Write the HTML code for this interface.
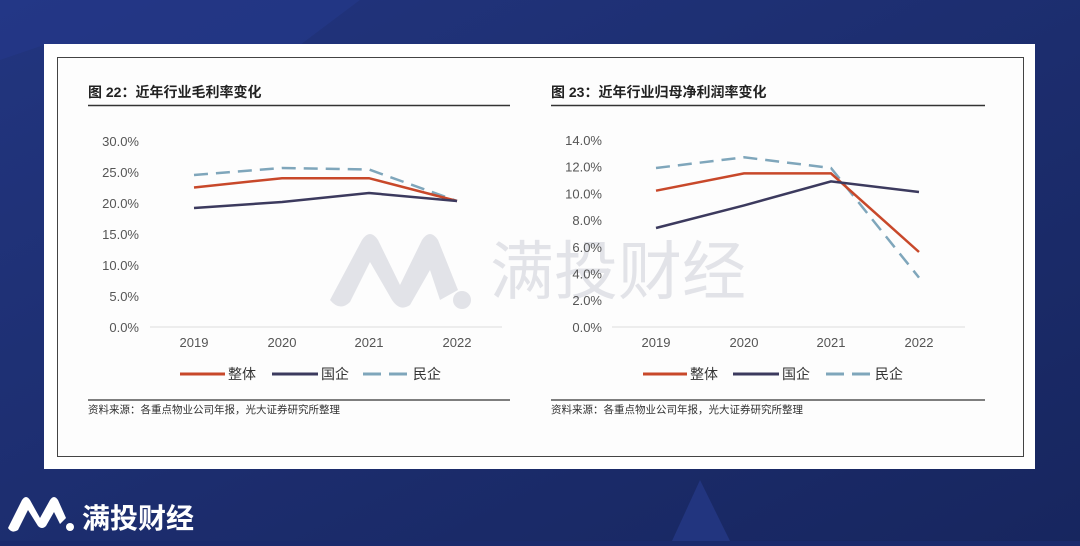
<!DOCTYPE html>
<html><head><meta charset="utf-8"><style>
html,body{margin:0;padding:0;}
body{width:1080px;height:541px;overflow:hidden;background:#1a2a6c;}
svg text{font-family:"Liberation Sans","Noto Sans CJK SC",sans-serif;}
</style></head><body>
<svg width="1080" height="541" viewBox="0 0 1080 541" xmlns="http://www.w3.org/2000/svg">
<defs><linearGradient id="bg" x1="0" y1="0" x2="1" y2="1"><stop offset="0" stop-color="#22357f"/><stop offset="1" stop-color="#17265f"/></linearGradient></defs>
<rect width="1080" height="541" fill="url(#bg)"/>
<polygon points="0,0 360,0 300,45 44,45 0,60" fill="#24388a" opacity="0.6"/>
<polygon points="672,541 700,480 730,541" fill="#22357f"/>
<rect x="44" y="44" width="991" height="425" fill="#ffffff"/>
<rect x="57.5" y="57.5" width="966" height="399" fill="#fdfdfd" stroke="#444" stroke-width="1"/>
<!-- watermark -->
<g fill="#e2e3e8">
<path d="M330,300 L362,240 Q370,228 378,240 L400,285 L422,240 Q430,228 438,240 L458,290 L440,300 L430,270 L410,305 Q400,312 392,300 L370,262 L350,302 Q340,312 330,300Z"/>
<circle cx="462" cy="300" r="9"/>
</g>
<text x="490" y="294" font-size="64" fill="#e2e3e8">满投财经</text>
<!-- left chart -->
<text x="88" y="97" font-size="14" font-weight="bold" fill="#222">图 22：近年行业毛利率变化</text>
<line x1="88" y1="105.5" x2="510" y2="105.5" stroke="#333" stroke-width="1.5"/>
<g font-size="13" fill="#555" text-anchor="end">
<text x="139" y="146">30.0%</text><text x="139" y="177">25.0%</text><text x="139" y="208">20.0%</text><text x="139" y="239">15.0%</text><text x="139" y="270">10.0%</text><text x="139" y="301">5.0%</text><text x="139" y="332">0.0%</text>
</g>
<line x1="150" y1="327" x2="502" y2="327" stroke="#ddd" stroke-width="1"/>
<g font-size="13" fill="#555" text-anchor="middle">
<text x="194" y="347">2019</text><text x="282" y="347">2020</text><text x="369" y="347">2021</text><text x="457" y="347">2022</text>
</g>
<polyline points="194,175 282,168 369,169.5 457,201" fill="none" stroke="#7fa6bb" stroke-width="2.5" stroke-dasharray="14,8"/>
<polyline points="194,187.5 282,178.2 369,178.2 457,201" fill="none" stroke="#c8482a" stroke-width="2.5"/>
<polyline points="194,208 282,202 369,193 457,201" fill="none" stroke="#3c3a5e" stroke-width="2.5"/>
<line x1="180" y1="374" x2="225" y2="374" stroke="#c8482a" stroke-width="3"/>
<text x="228" y="379" font-size="14" fill="#333">整体</text>
<line x1="272" y1="374" x2="318" y2="374" stroke="#3c3a5e" stroke-width="3"/>
<text x="321" y="379" font-size="14" fill="#333">国企</text>
<line x1="363" y1="374" x2="410" y2="374" stroke="#7fa6bb" stroke-width="3" stroke-dasharray="18,8"/>
<text x="413" y="379" font-size="14" fill="#333">民企</text>
<line x1="88" y1="400" x2="510" y2="400" stroke="#333" stroke-width="1.2"/>
<text x="88" y="413" font-size="10.5" fill="#333">资料来源：各重点物业公司年报，光大证券研究所整理</text>
<!-- right chart -->
<text x="551" y="97" font-size="14" font-weight="bold" fill="#222">图 23：近年行业归母净利润率变化</text>
<line x1="551" y1="105.5" x2="985" y2="105.5" stroke="#333" stroke-width="1.5"/>
<g font-size="13" fill="#555" text-anchor="end">
<text x="602" y="145">14.0%</text><text x="602" y="171.7">12.0%</text><text x="602" y="198.4">10.0%</text><text x="602" y="225">8.0%</text><text x="602" y="251.8">6.0%</text><text x="602" y="278.5">4.0%</text><text x="602" y="305">2.0%</text><text x="602" y="332">0.0%</text>
</g>
<line x1="612" y1="327" x2="965" y2="327" stroke="#ddd" stroke-width="1"/>
<g font-size="13" fill="#555" text-anchor="middle">
<text x="656" y="347">2019</text><text x="744" y="347">2020</text><text x="831" y="347">2021</text><text x="919" y="347">2022</text>
</g>
<polyline points="656,168 744,157.3 831,168 919,277.6" fill="none" stroke="#7fa6bb" stroke-width="2.5" stroke-dasharray="14,8"/>
<polyline points="656,190.7 744,173.4 831,173.4 919,252" fill="none" stroke="#c8482a" stroke-width="2.5"/>
<polyline points="656,228 744,205.4 831,181.4 919,192" fill="none" stroke="#3c3a5e" stroke-width="2.5"/>
<line x1="643" y1="374" x2="687" y2="374" stroke="#c8482a" stroke-width="3"/>
<text x="690" y="379" font-size="14" fill="#333">整体</text>
<line x1="733" y1="374" x2="779" y2="374" stroke="#3c3a5e" stroke-width="3"/>
<text x="782" y="379" font-size="14" fill="#333">国企</text>
<line x1="826" y1="374" x2="872" y2="374" stroke="#7fa6bb" stroke-width="3" stroke-dasharray="18,8"/>
<text x="875" y="379" font-size="14" fill="#333">民企</text>
<line x1="551" y1="400" x2="985" y2="400" stroke="#333" stroke-width="1.2"/>
<text x="551" y="413" font-size="10.5" fill="#333">资料来源：各重点物业公司年报，光大证券研究所整理</text>
<!-- bottom logo -->
<g fill="#ffffff">
<path d="M8,528 L22,500 Q26,494 30,500 L40,518 L50,500 Q54,494 58,500 L66,518 L60,524 L54,512 L46,526 Q42,530 38,526 L28,510 L18,530 Q12,534 8,528Z"/>
<circle cx="70" cy="527" r="4"/>
</g>
<text x="82" y="528" font-size="28" font-weight="bold" fill="#ffffff">满投财经</text>
</svg>
</body></html>
